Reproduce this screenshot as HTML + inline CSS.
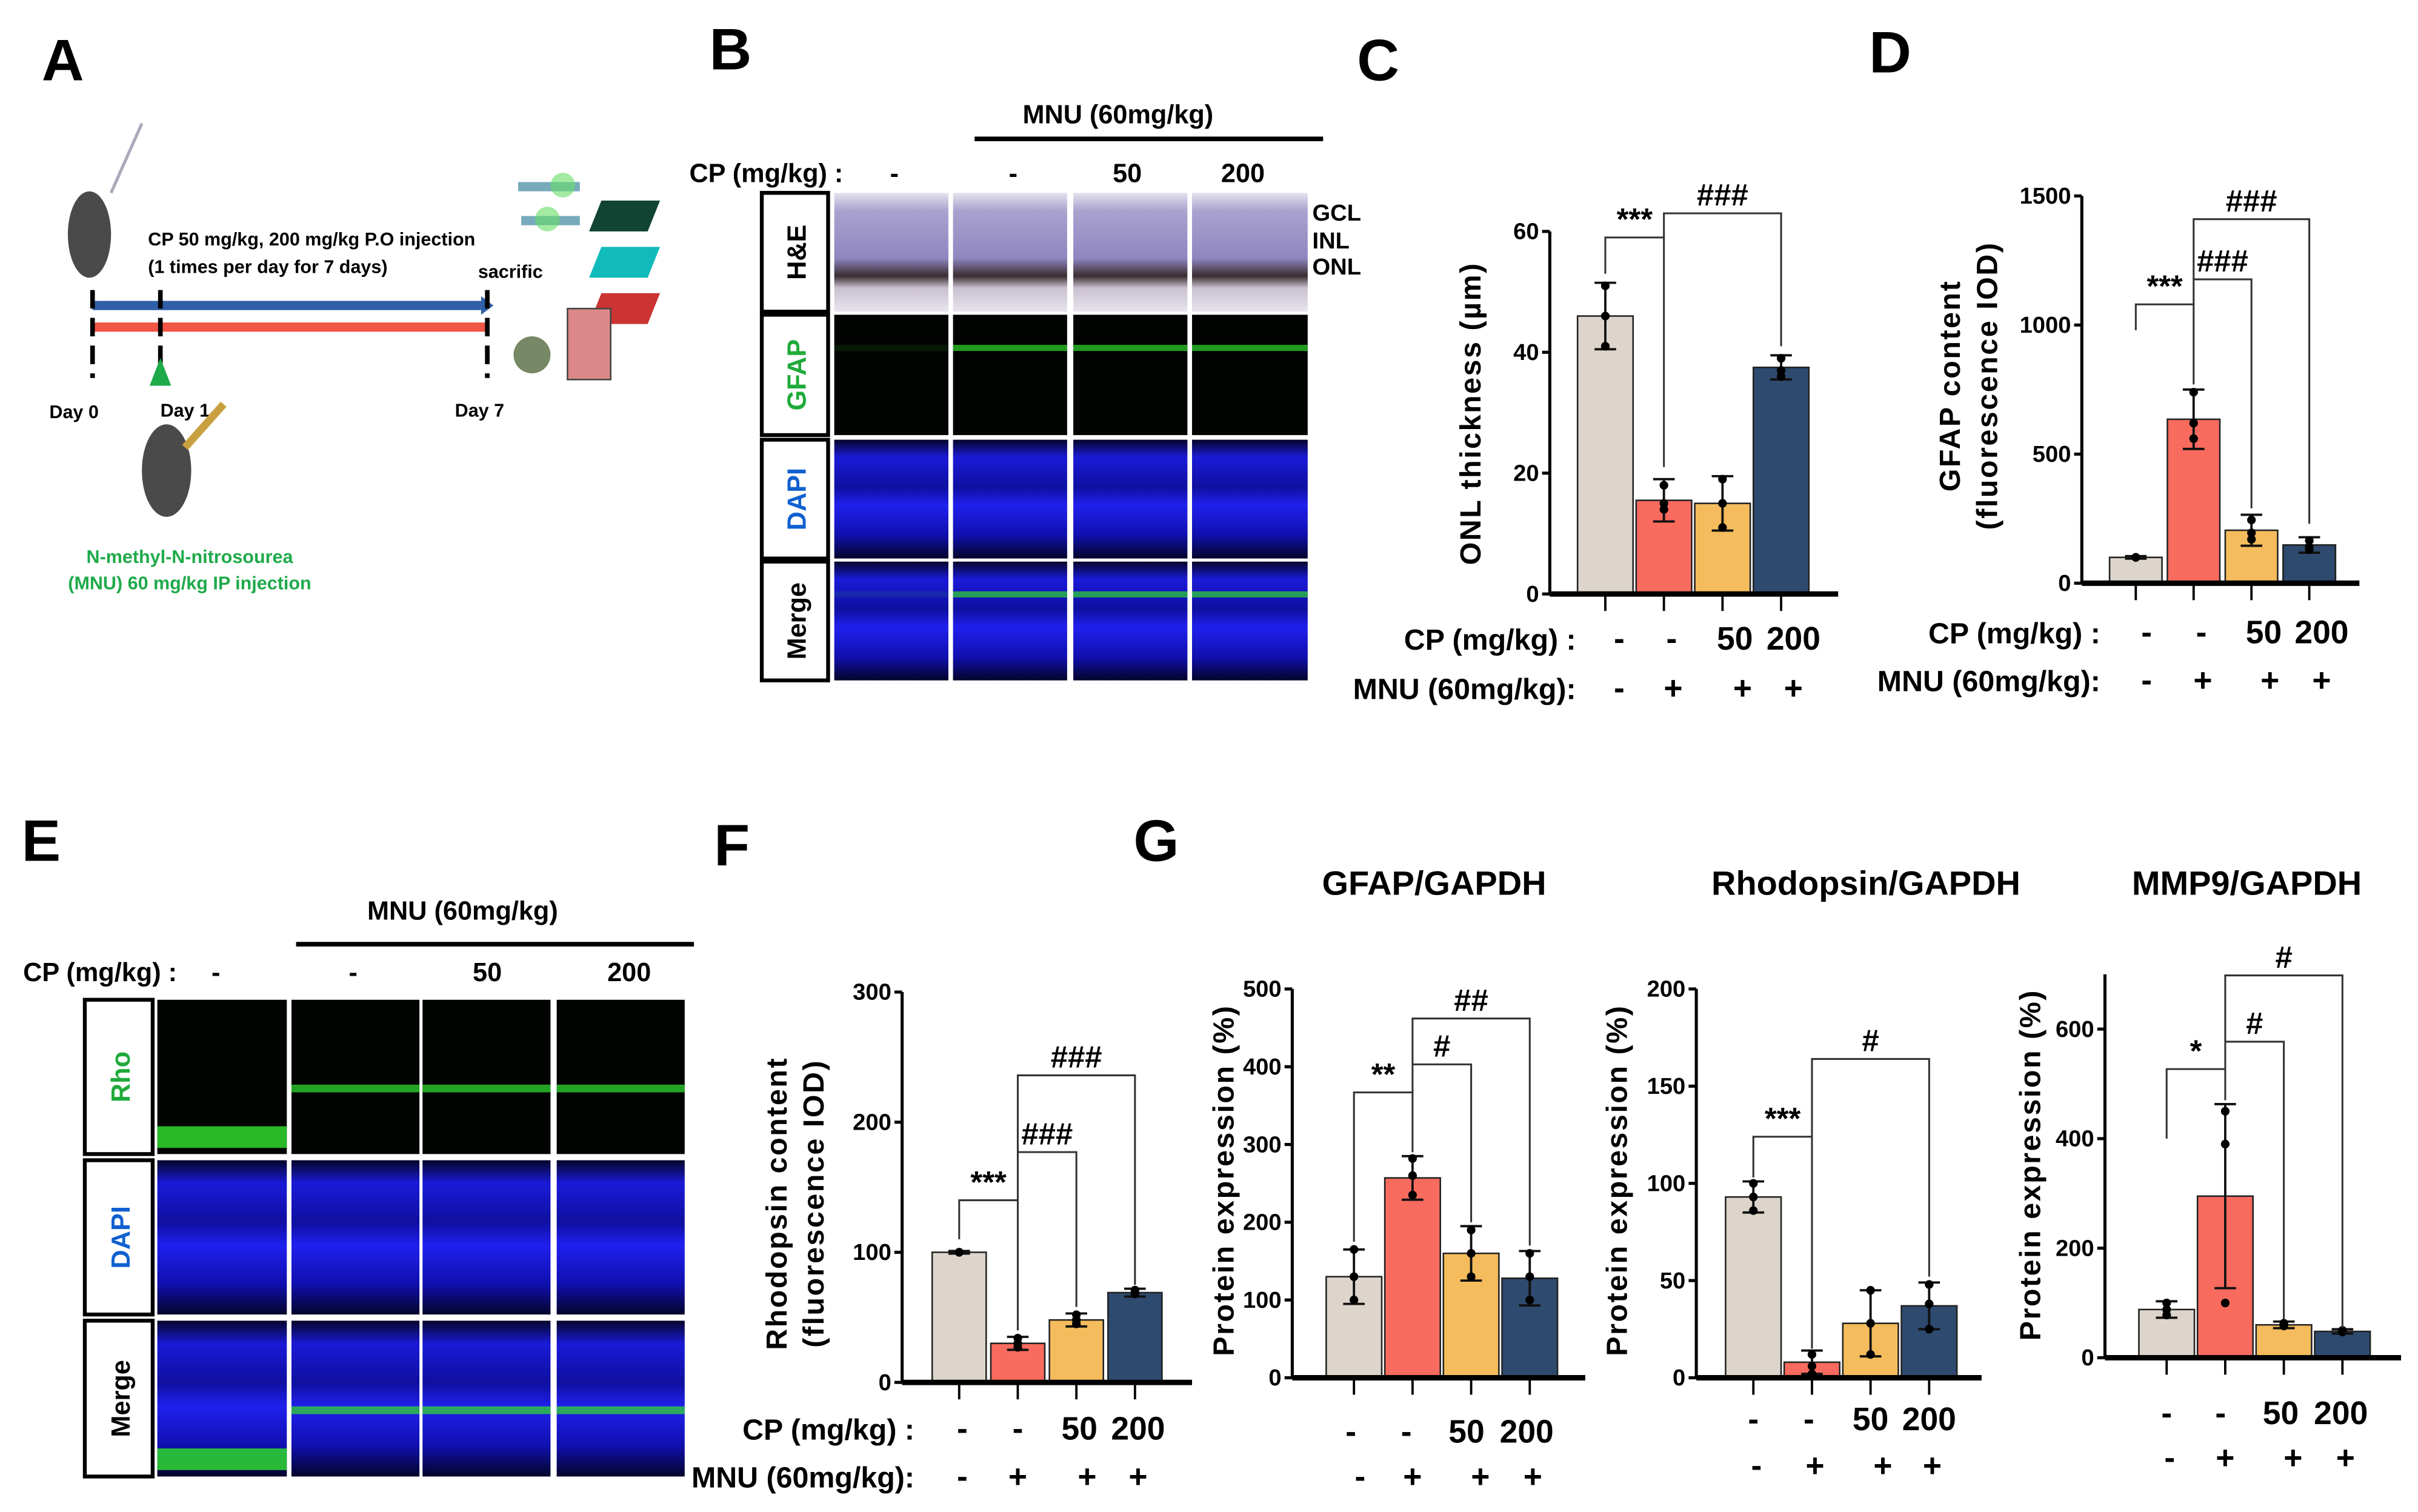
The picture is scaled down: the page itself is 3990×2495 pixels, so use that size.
<!DOCTYPE html>
<html><head><meta charset="utf-8"><style>
html,body{margin:0;padding:0;background:#fff}
svg{display:block}
text{font-family:"Liberation Sans",sans-serif;font-weight:bold;fill:#000}
</style></head><body>
<svg id="fig" xmlns="http://www.w3.org/2000/svg" width="3990" height="2495" viewBox="0 0 1568 980" preserveAspectRatio="none">
<defs>
<linearGradient id="he" x1="0" y1="0" x2="0" y2="1"><stop offset="0" stop-color="#e6e2ee"/><stop offset="0.15" stop-color="#a9a3cf"/><stop offset="0.55" stop-color="#8f86c0"/><stop offset="0.7" stop-color="#3a2c30"/><stop offset="0.8" stop-color="#c9c0d0"/><stop offset="1" stop-color="#e8e4ee"/></linearGradient>
<linearGradient id="dapi" x1="0" y1="0" x2="0" y2="1"><stop offset="0" stop-color="#05052a"/><stop offset="0.15" stop-color="#1a1ad8"/><stop offset="0.4" stop-color="#0f0fa0"/><stop offset="0.55" stop-color="#2020ee"/><stop offset="0.8" stop-color="#1010b0"/><stop offset="1" stop-color="#04042a"/></linearGradient>
</defs>
<text x="27" y="52" font-size="38">A</text>
<text x="460" y="45" font-size="38">B</text>
<text x="880" y="52" font-size="38">C</text>
<text x="1212" y="47" font-size="38">D</text>
<text x="14" y="558" font-size="38">E</text>
<text x="463" y="561" font-size="38">F</text>
<text x="735" y="558" font-size="38">G</text>

<g>
<ellipse cx="58" cy="152" rx="14" ry="28" fill="#4a4a4a"/>
<line x1="72" y1="125" x2="92" y2="80" stroke="#aab" stroke-width="2"/>
<line x1="60" y1="198" x2="312" y2="198" stroke="#2f5fa8" stroke-width="6"/>
<polygon points="312,192 320,198 312,204" fill="#2f5fa8"/>
<line x1="60" y1="212" x2="316" y2="212" stroke="#f05545" stroke-width="6"/>
<g stroke="#000" stroke-width="3" stroke-dasharray="12,6"><line x1="60" y1="188" x2="60" y2="245"/><line x1="104" y1="188" x2="104" y2="245"/><line x1="316" y1="188" x2="316" y2="245"/></g>
<polygon points="104,232 97,250 111,250" fill="#1faa4a"/>
<text x="96" y="159" font-size="12">CP 50 mg/kg, 200 mg/kg  P.O injection</text>
<text x="96" y="177" font-size="12">(1 times per day for 7 days)</text>
<text x="310" y="180" font-size="12">sacrific</text>
<text x="32" y="271" font-size="12">Day 0</text>
<text x="104" y="270" font-size="12">Day 1</text>
<text x="295" y="270" font-size="12">Day 7</text>
<ellipse cx="108" cy="305" rx="16" ry="30" fill="#4a4a4a"/>
<line x1="120" y1="290" x2="145" y2="262" stroke="#c9a040" stroke-width="5"/>
<text x="123" y="365" font-size="12" text-anchor="middle" style="fill:#1faa4a">N-methyl-N-nitrosourea</text>
<text x="123" y="382" font-size="12" text-anchor="middle" style="fill:#1faa4a">(MNU) 60 mg/kg  IP injection</text>
<g>
<rect x="336" y="118" width="40" height="6" fill="#7ab"/><circle cx="365" cy="120" r="8" fill="#6d6" opacity=".6"/>
<rect x="338" y="140" width="38" height="6" fill="#7ab"/><circle cx="355" cy="142" r="8" fill="#6d6" opacity=".6"/>
<polygon points="390,130 428,130 420,150 382,150" fill="#143" /><polygon points="390,160 428,160 420,180 382,180" fill="#1bb"/><polygon points="390,190 428,190 420,210 382,210" fill="#c33"/>
<rect x="368" y="200" width="28" height="46" fill="#d88" stroke="#444"/><circle cx="345" cy="230" r="12" fill="#786"/>
</g>
</g>

<text x="725" y="80" font-size="17" text-anchor="middle">MNU (60mg/kg)</text>
<line x1="632" y1="90" x2="858" y2="90" stroke="#000" stroke-width="3"/>
<text x="447" y="118" font-size="17">CP (mg/kg) :</text>
<text x="580" y="118" font-size="17" text-anchor="middle">-</text>
<text x="657" y="118" font-size="17" text-anchor="middle">-</text>
<text x="731" y="118" font-size="17" text-anchor="middle">50</text>
<text x="806" y="118" font-size="17" text-anchor="middle">200</text>
<text x="851" y="143" font-size="15">GCL</text>
<text x="851" y="161" font-size="15">INL</text>
<text x="851" y="178" font-size="15">ONL</text>
<g id="gridB"></g>

<text x="300" y="596" font-size="17" text-anchor="middle">MNU (60mg/kg)</text>
<line x1="192" y1="612" x2="450" y2="612" stroke="#000" stroke-width="3"/>
<text x="15" y="636" font-size="17">CP (mg/kg) :</text>
<text x="140" y="636" font-size="17" text-anchor="middle">-</text>
<text x="229" y="636" font-size="17" text-anchor="middle">-</text>
<text x="316" y="636" font-size="17" text-anchor="middle">50</text>
<text x="408" y="636" font-size="17" text-anchor="middle">200</text>
<g id="gridE"></g>

<text x="930" y="580" font-size="22" text-anchor="middle">GFAP/GAPDH</text>
<text x="1210" y="580" font-size="22" text-anchor="middle">Rhodopsin/GAPDH</text>
<text x="1457" y="580" font-size="22" text-anchor="middle">MMP9/GAPDH</text>
<g id="charts"></g>
</svg>
<script>
const cpLabels = ["-", "-", "50", "200"];
const mnuLabels = ["-", "+", "+", "+"];
const barColors = ["#ddd5cb", "#f96b5e", "#f4bc5c", "#2e4a6e"];

const cTicks = [0, 20, 40, 60];
const cValues = [46, 15.5, 15, 37.5];
const cErrors = [5.5, 3.5, 4.5, 2];
const cPoints = [[51, 46, 41], [18, 15, 14], [19, 15, 11], [39, 37, 36]];
const cSig = [[0, 1, 59, 53, 21, "***"], [1, 3, 63, 59, 41, "###"]];

const dTicks = [0, 500, 1000, 1500];
const dValues = [100, 635, 205, 148];
const dErrors = [5, 115, 60, 30];
const dPoints = [[100, 100, 100], [740, 620, 560], [245, 195, 170], [165, 140, 130]];
const dSig = [[0, 1, 1080, 980, 770, "***"], [1, 2, 1177, 1080, 290, "###"], [1, 3, 1410, 1177, 230, "###"]];

const fTicks = [0, 100, 200, 300];
const fValues = [100, 30, 48, 69];
const fErrors = [1, 5, 5, 3];
const fPoints = [[100, 100, 100], [34, 30, 27], [52, 48, 45], [71, 69, 68]];
const fSig = [[0, 1, 140, 110, 40, "***"], [1, 2, 177, 140, 58, "###"], [1, 3, 236, 177, 75, "###"]];

const g1Ticks = [0, 100, 200, 300, 400, 500];
const g1Values = [130, 257, 160, 128];
const g1Errors = [35, 28, 35, 35];
const g1Points = [[165, 130, 100], [282, 260, 235], [190, 160, 130], [160, 130, 100]];
const g1Sig = [[0, 1, 367, 175, 290, "**"], [1, 2, 403, 367, 200, "#"], [1, 3, 462, 403, 170, "##"]];

const g2Ticks = [0, 50, 100, 150, 200];
const g2Values = [93, 8, 28, 37];
const g2Errors = [8, 6, 17, 12];
const g2Points = [[100, 93, 86], [12, 6, 2], [45, 28, 12], [48, 38, 25]];
const g2Sig = [[0, 1, 124, 103, 15, "***"], [1, 3, 164, 124, 52, "#"]];

const g3Ticks = [0, 200, 400, 600];
const g3Values = [88, 295, 60, 48];
const g3Errors = [15, 168, 6, 4];
const g3Points = [[100, 88, 78], [450, 390, 100], [63, 60, 58], [50, 48, 47]];
const g3Sig = [[0, 1, 527, 400, 470, "*"], [1, 2, 577, 527, 70, "#"], [1, 3, 698, 577, 55, "#"]];

const NS = "http://www.w3.org/2000/svg";
function mk(tag, attrs, parent) {
  const e = document.createElementNS(NS, tag);
  for (const k in attrs) e.setAttribute(k, attrs[k]);
  (parent || document.getElementById("charts")).appendChild(e);
  return e;
}

function chart(o) {
  const g = mk("g", {});
  
  
  const y = v => o.y0 - v * (o.y0 - o.yTop) / o.yMax;
  const bx = i => o.x0 + o.first + i * o.step;
  const ya = mk("line", {x1: o.x0, y1: y(o.axisTop), x2: o.x0, y2: o.y0, stroke: "#000", "stroke-width": 2}, g);
  
  
  o.ticks.forEach(t => {
    mk("line", {x1: o.x0 - 5, y1: y(t), x2: o.x0, y2: y(t), stroke: "#000", "stroke-width": 2}, g);
    const tl = mk("text", {x: o.x0 - 7, y: y(t) + 5, "font-size": 15, "text-anchor": "end"}, g);
    
    
    tl.textContent = t;
  });
  o.values.forEach((v, i) => {
    const r = mk("rect", {x: bx(i) - o.bw / 2, y: y(v), width: o.bw, height: o.y0 - y(v), fill: barColors[i], stroke: "#222", "stroke-width": 1}, g);
    
    
    const e = o.errors[i];
    const eb = mk("path", {d: `M${bx(i)},${y(v - e)}V${y(v + e)}M${bx(i) - 7},${y(v + e)}h14M${bx(i) - 7},${y(v - e)}h14`, stroke: "#111", "stroke-width": 1.5, fill: "none"}, g);
    
    
    o.points[i].forEach(p => {
      const c = mk("circle", {cx: bx(i), cy: y(p), r: 2.8, fill: "#000"}, g);
      
      
    });
    mk("line", {x1: bx(i), y1: o.y0, x2: bx(i), y2: o.y0 + 11, stroke: "#000", "stroke-width": 1.5}, g);
  });
  const xa = mk("line", {x1: o.x0, y1: o.y0, x2: o.x0 + o.xlen, y2: o.y0, stroke: "#000", "stroke-width": 3.5}, g);
  
  
  o.sig.forEach(s => {
    const [a, b, lv, ld, rd, lab] = s;
    const p = mk("path", {d: `M${bx(a)},${y(ld)}V${y(lv)}H${bx(b)}V${y(rd)}`, stroke: "#333", "stroke-width": 1.2, fill: "none"}, g);
    
    
    const t = mk("text", {x: (bx(a) + bx(b)) / 2, y: y(lv) - 5, "font-size": 20, "text-anchor": "middle"}, g);
    
    
    t.textContent = lab;
  });
  o.ylab.forEach((l, k) => {
    const t = mk("text", {x: 0, y: 0, "font-size": 19, "text-anchor": "middle", transform: `translate(${o.ylx + k * 24},${o.yly}) rotate(-90)`, "letter-spacing": 1}, g);
    
    
    t.textContent = l;
  });
  if (o.rowCap) {
    const t1 = mk("text", {x: o.capX, y: o.row1, "font-size": 19, "text-anchor": "end"}, g);
    
    
    t1.textContent = "CP (mg/kg) :";
    const t2 = mk("text", {x: o.capX, y: o.row2, "font-size": 19, "text-anchor": "end"}, g);
    
    
    t2.textContent = "MNU (60mg/kg):";
  }
  cpLabels.forEach((l, i) => {
    const t = mk("text", {x: bx(i) + o.lblOff[i], y: o.row1, "font-size": 21, "text-anchor": "middle"}, g);
    
    
    t.textContent = l;
  });
  mnuLabels.forEach((l, i) => {
    const t = mk("text", {x: bx(i) + o.lblOff2[i], y: o.row2, "font-size": 21, "text-anchor": "middle"}, g);
    
    
    t.textContent = l;
  });
}

chart({name: "chart-onl-thickness", x0: 1005, y0: 385, yTop: 150, yMax: 60, axisTop: 60, first: 36, step: 38, bw: 36, xlen: 187,
  ticks: cTicks, values: cValues, errors: cErrors, points: cPoints, sig: cSig,
  ylab: ["ONL  thickness  (µm)"], ylx: 960, yly: 268, rowCap: true, capX: 1022, row1: 421, row2: 453, lblOff: [9, 5, 8, 8], lblOff2: [9, 6, 13, 8]});
chart({name: "chart-gfap-content", x0: 1350, y0: 378, yTop: 127, yMax: 1500, axisTop: 1500, first: 35, step: 37.5, bw: 34, xlen: 180,
  ticks: dTicks, values: dValues, errors: dErrors, points: dPoints, sig: dSig,
  ylab: ["GFAP  content", "(fluorescence IOD)"], ylx: 1271, yly: 250, rowCap: true, capX: 1362, row1: 417, row2: 448, lblOff: [7, 5, 8, 8], lblOff2: [7, 6, 12, 8]});
chart({name: "chart-rhodopsin-content", x0: 585, y0: 896, yTop: 643, yMax: 300, axisTop: 300, first: 37, step: 38, bw: 35, xlen: 188,
  ticks: fTicks, values: fValues, errors: fErrors, points: fPoints, sig: fSig,
  ylab: ["Rhodopsin  content", "(fluorescence IOD)"], ylx: 510, yly: 780, rowCap: true, capX: 593, row1: 933, row2: 964, lblOff: [2, 0, 2, 2], lblOff2: [2, 0, 7, 2]});
chart({name: "chart-gfap-gapdh", x0: 838, y0: 893, yTop: 641, yMax: 500, axisTop: 500, first: 40, step: 38, bw: 36, xlen: 190,
  ticks: g1Ticks, values: g1Values, errors: g1Errors, points: g1Points, sig: g1Sig,
  ylab: ["Protein  expression  (%)"], ylx: 800, yly: 765, rowCap: false, row1: 935, row2: 964, lblOff: [-2, -4, -3, -2], lblOff2: [4, 0, 6, 2]});
chart({name: "chart-rhodopsin-gapdh", x0: 1100, y0: 893, yTop: 641, yMax: 200, axisTop: 200, first: 37, step: 38, bw: 36, xlen: 185,
  ticks: g2Ticks, values: g2Values, errors: g2Errors, points: g2Points, sig: g2Sig,
  ylab: ["Protein  expression  (%)"], ylx: 1055, yly: 765, rowCap: false, row1: 927, row2: 957, lblOff: [0, -2, 0, 0], lblOff2: [2, 2, 8, 2]});
chart({name: "chart-mmp9-gapdh", x0: 1365, y0: 880, yTop: 667, yMax: 600, axisTop: 700, first: 40, step: 38, bw: 36, xlen: 192,
  ticks: g3Ticks, values: g3Values, errors: g3Errors, points: g3Points, sig: g3Sig,
  ylab: ["Protein  expression  (%)"], ylx: 1323, yly: 755, rowCap: false, row1: 923, row2: 952, lblOff: [0, -3, -2, -1], lblOff2: [2, 0, 6, 2]});

function grid(parentId, cols, rows, labels, labelBox, kinds) {
  const P = document.getElementById(parentId);
  rows.forEach((r, ri) => {
    const b = mk("rect", {x: labelBox[0], y: r[0], width: labelBox[1], height: r[1] - r[0], fill: "#fff", stroke: "#000", "stroke-width": 2.5}, P);
    
    
    const cx = labelBox[0] + labelBox[1] / 2 + 7, cy = (r[0] + r[1]) / 2;
    const t = mk("text", {x: 0, y: 0, "font-size": 17, "text-anchor": "middle", transform: `translate(${cx},${cy}) rotate(-90)`}, P);
    
    
    t.style.fill = labels[ri][1];
    t.textContent = labels[ri][0];
    cols.forEach((c, ci) => {
      const k = kinds[ri];
      const w = c[1] - c[0], h = r[1] - r[0];
      const fill = k === "he" ? "url(#he)" : (k === "green" ? "#020402" : "url(#dapi)");
      const im = mk("rect", {x: c[0], y: r[0], width: w, height: h, fill: fill}, P);
      
      
      if (k === "green" || k === "merge") {
        let frac = 0.25, th = 4, op = 0.7;
        if (parentId === "gridE") { frac = ci === 0 ? 0.82 : 0.55; th = ci === 0 ? 14 : 5; op = ci === 0 ? 0.85 : 0.75; }
        else if (ci === 0) op = 0.1;
        mk("rect", {x: c[0], y: r[0] + h * frac, width: w, height: th, fill: "#2fd82f", opacity: op}, P);
      }
    });
  });
}
grid("gridB", [[541, 615], [618, 692], [696, 770], [773, 848]], [[125, 202], [204, 282], [285, 362], [364, 441]],
  [["H&E", "#000"], ["GFAP", "#1faa3a"], ["DAPI", "#1060d0"], ["Merge", "#000"]], [494, 43], ["he", "green", "dapi", "merge"]);
grid("gridE", [[102, 186], [189, 272], [274, 357], [361, 444]], [[648, 748], [752, 852], [856, 957]],
  [["Rho", "#1faa3a"], ["DAPI", "#1060d0"], ["Merge", "#000"]], [55, 44], ["green", "dapi", "merge"]);
</script>
</body></html>
